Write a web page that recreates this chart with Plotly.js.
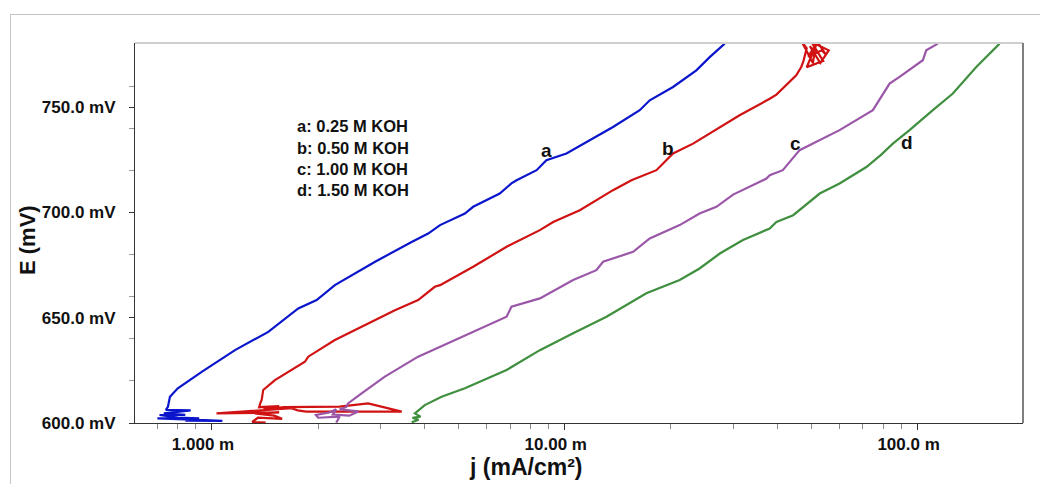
<!DOCTYPE html>
<html>
<head>
<meta charset="utf-8">
<script src="https://cdn.plot.ly/plotly-3.0.1.min.js"></script>
<style>
html,body{margin:0;padding:0;background:#fff;}
#wrap{position:relative;width:1040px;height:484px;overflow:hidden;}
#frame{position:absolute;left:10px;top:14px;width:1100px;height:600px;border-left:1px solid #c4c4c4;border-top:1px solid #c4c4c4;pointer-events:none;z-index:5;}
#plot{position:absolute;left:0;top:0;width:1040px;height:484px;}
</style>
</head>
<body>
<div id="wrap"><div id="plot"></div><div id="frame"></div></div>
<script>
// current density (mA/cm2) and potential (mV)
var aJ = [0.84,1.07,0.95,0.70,0.92,0.80,0.71,0.84,0.73,0.87,0.74,0.75,0.76,0.80,0.935,1.162,1.444,1.756,1.98,2.23,2.90,3.68,4.10,4.43,5.21,5.50,6.54,7.06,7.30,8.32,8.87,10.11,11.77,13.70,16.31,17.41,20.27,23.6,25.75,28.4];
var aE = [601.1,601.0,601.4,602.2,602.2,602.6,603.8,603.9,604.6,606.0,606.2,607.7,612.5,616.5,624.3,634.6,643.3,654.4,658.4,665.5,676.6,686.0,690.0,694.0,699.5,702.7,709.0,713.8,715.3,720.1,724.8,728.0,734.3,740.6,748.6,753.3,759.6,767.5,773.8,780.2];

var bJ = [1.42,1.30,1.35,1.58,1.50,1.32,1.55,1.03,1.68,1.75,1.85,3.45,2.77,2.30,1.60,1.40,1.55,1.36,1.37,1.383,1.397,1.508,1.834,1.874,2.23,2.896,3.30,3.84,4.28,4.43,5.50,6.84,8.50,9.27,11.03,13.70,15.45,18.19,20.27,23.1,27.5,31.3,38.1,39.8,45.3,46.8,47.5,48.5,47.0,50.5,51.5,49.0,53.5,55.0,52.0,48.5,54.0,50.0,56.0,53.0,49.5,51.0];
var bE = [600.2,600.5,602.5,602.0,603.5,604.5,605.0,604.6,607.0,606.0,605.4,605.4,609.3,607.8,607.5,606.5,608.0,607.5,609.3,610.9,615.7,620.4,629.1,631.5,639.4,648.9,653.6,658.4,664.7,665.5,674.2,683.7,691.6,695.5,701.1,710.6,715.3,720.1,728.0,732.7,740.6,746.2,754.0,756.0,765.2,769.1,772,778,781,771,780,774,777,775,781,769,772,781,777,771,779,776];

var cJ = [2.25,2.30,2.00,1.97,2.15,2.25,2.20,2.45,2.60,2.30,2.40,2.43,2.655,3.09,3.84,4.43,5.21,5.50,6.84,7.06,8.50,10.56,12.29,12.84,15.62,17.41,21.17,24.1,26.9,30.0,37.3,38.1,41.5,46.3,60.1,74.7,83.3,88.9,103.5,105.8,114.2];
var cE = [600.2,603.0,602.5,603.8,605.0,606.5,604.0,603.5,605.5,606.5,607.5,609.3,614.1,622.0,631.5,636.2,641.5,643.5,650.5,655.2,659.2,667.9,672.6,676.6,681.3,687.7,694.0,699.5,702.7,708.5,716.1,717.7,720.1,729.6,739.1,748.6,761.2,764.4,772.3,777.0,780.2];

var dJ = [3.68,3.85,3.70,3.90,3.76,4.01,4.475,5.21,6.84,8.50,10.56,13.13,17.03,21.17,24.1,27.5,32.0,38.1,39.8,44.4,52.8,60.1,71.6,78.9,85.1,94.9,110.5,125.9,146.7,170.8];
var dE = [600.3,601.5,602.5,603.0,604.6,608.5,612.5,616.5,625.2,634.6,642.6,650.5,661.6,667.9,673.4,680.5,686.9,692.4,695.5,698.7,709.0,713.8,721.6,727.5,732.7,739.1,748.6,756.5,769.1,780.2];

var xTickVals = [1, 10, 100];
var xTickText = ["1.000 m", "10.00 m", "100.0 m"];
var xMinorVals = [0.7,0.8,0.9,2,3,4,5,6,7,8,9,20,30,40,50,60,70,80,90,200];
var yTickVals = [600, 650, 700, 750];
var yTickText = ["600.0 mV", "650.0 mV", "700.0 mV", "750.0 mV"];
var yMinorVals = [620, 640, 660, 680, 720, 740, 760];

var legendLines = ["a: 0.25 M KOH", "b: 0.50 M KOH", "c: 1.00 M KOH", "d: 1.50 M KOH"];
var curveLabels = ["a", "b", "c", "d"];

// layout geometry in pixels
var L = 135, R = 1023, T = 43, B = 423;
function px(x){ return (x - L) / (R - L); }
function py(y){ return (B - y) / (B - T); }

var colors = ["#0b16cc", "#d01212", "#9a57a8", "#3f8f3f"];
function tr(x, y, c){
  return {x: x, y: y, type: "scatter", mode: "lines", line: {color: c, width: 2.2}, hoverinfo: "skip", showlegend: false};
}
var data = [tr(aJ, aE, colors[0]), tr(bJ, bE, colors[1]), tr(cJ, cE, colors[2]), tr(dJ, dE, colors[3])];

var FONT = "Liberation Sans, Arial, sans-serif";
var ann = [];
var legY = [126, 147.5, 169, 190];
legendLines.forEach(function(t, i){
  ann.push({text: t, xref: "paper", yref: "paper", x: px(295), y: py(legY[i]), xanchor: "left", yanchor: "middle",
    showarrow: false, font: {family: FONT, size: 16.5, weight: "bold", color: "#111"}});
});
var lab = [[546, 150], [668, 148], [795, 143], [907, 142]];
curveLabels.forEach(function(t, i){
  ann.push({text: t, xref: "paper", yref: "paper", x: px(lab[i][0]), y: py(lab[i][1]), xanchor: "center", yanchor: "middle",
    showarrow: false, font: {family: FONT, size: 19, weight: "bold", color: "#111"}});
});
ann.push({text: "E (mV)", xref: "paper", yref: "paper", x: px(28), y: py(240), xanchor: "center", yanchor: "middle", textangle: -90,
  showarrow: false, font: {family: FONT, size: 22, weight: "bold", color: "#111"}});
ann.push({text: "j (mA/cm²)", xref: "paper", yref: "paper", x: px(525), y: py(467), xanchor: "center", yanchor: "middle",
  showarrow: false, font: {family: FONT, size: 23, weight: "bold", color: "#111"}});

var layout = {
  width: 1040, height: 484,
  margin: {l: L, r: 1040 - R, t: T, b: 484 - B},
  paper_bgcolor: "#fff", plot_bgcolor: "#fff",
  xaxis: {type: "log", range: [Math.log10(0.605), Math.log10(199)], showgrid: false, zeroline: false,
    showline: true, linecolor: "#333", linewidth: 1, mirror: false,
    tickmode: "array", tickvals: xTickVals, ticktext: xTickText, ticks: "outside", ticklen: 6, tickcolor: "#333",
    ticklabelshift: -9,
    tickfont: {family: FONT, size: 17, weight: "bold", color: "#111"},
    minor: {tickmode: "array", tickvals: xMinorVals, ticks: "outside", ticklen: 5, tickcolor: "#888", showgrid: false}},
  yaxis: {range: [600, 780.5], showgrid: false, zeroline: false,
    showline: true, linecolor: "#333", linewidth: 1, mirror: false,
    tickmode: "array", tickvals: yTickVals, ticktext: yTickText, ticks: "outside", ticklen: 5, tickcolor: "#333",
    ticklabelstandoff: 10,
    tickfont: {family: FONT, size: 17, weight: "bold", color: "#111"},
    minor: {tickmode: "array", tickvals: yMinorVals, ticks: "outside", ticklen: 5, tickcolor: "#999", showgrid: false}},
  shapes: [
    {type: "line", xref: "paper", yref: "paper", x0: 0, x1: 1, y0: 1, y1: 1, line: {color: "#cfcfcf", width: 2}},
    {type: "line", xref: "paper", yref: "paper", x0: 1, x1: 1, y0: 0, y1: 1, line: {color: "#555", width: 1.5}}
  ],
  annotations: ann
};
Plotly.newPlot("plot", data, layout, {staticPlot: true, displayModeBar: false});
</script>
</body>
</html>
